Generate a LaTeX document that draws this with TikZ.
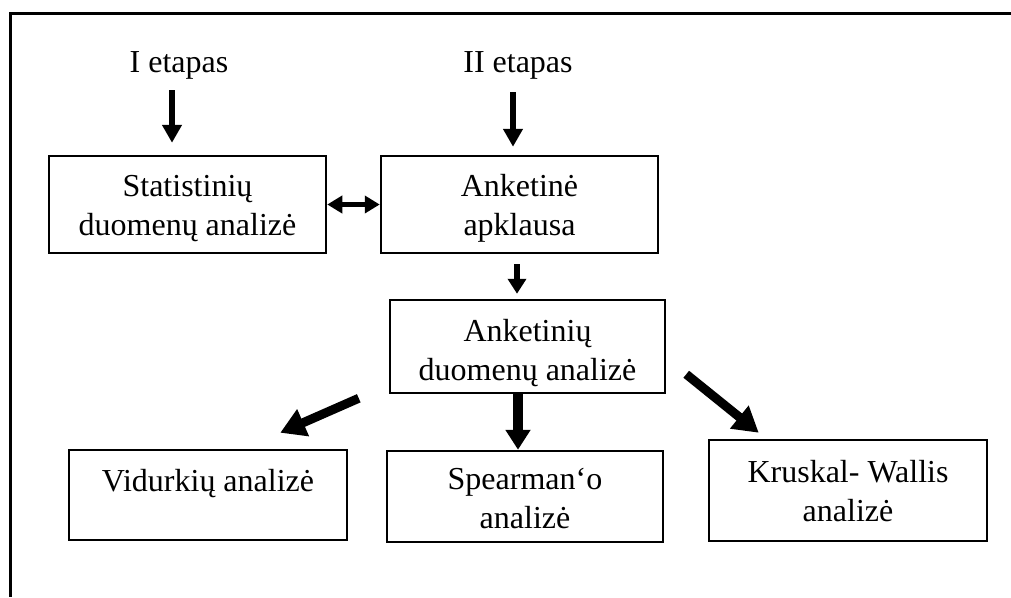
\documentclass[tikz,border=0pt]{standalone}
\usepackage{fontspec}
\setmainfont{Liberation Serif}
\usetikzlibrary{arrows.meta}
\begin{document}
\begin{tikzpicture}[x=1pt,y=-1pt,
  box/.style={draw, line width=2.5pt, align=center, inner sep=0pt,
    font=\fontsize{32}{39}\selectfont, text depth=8pt},
  lbl/.style={anchor=base, font=\fontsize{32}{39}\selectfont},
  thinarr/.style={line width=6pt, -{Triangle[length=18pt,width=19pt]}},
  midarr/.style={line width=6pt, -{Triangle[length=15pt,width=18pt]}},
  boldarr/.style={line width=10pt, -{Triangle[length=20pt,width=24pt]}},
  diagarr/.style={line width=9pt, -{Triangle[length=25pt,width=28pt]}},
  dblarr/.style={line width=5pt, {Triangle[length=15pt,width=17pt]}-{Triangle[length=15pt,width=17pt]}}]
\useasboundingbox (0,0) rectangle (1011,597);

% frame edges
\draw[line width=3pt] (1011,13) -- (10,13) -- (10,597);

% stage labels
\node[lbl] (t1) at (179,72) {I etapas};
\node[lbl] (t2) at (518,72) {II etapas};

% boxes (text height/depth place the last baseline inside each box)
\node[box, minimum width=277pt, minimum height=97pt, text height=69pt] (b1) at (187.5,204.5)
  {Statistinių\\duomenų analizė};
\node[box, minimum width=277pt, minimum height=97pt, text height=69pt] (b2) at (519.5,204.5)
  {Anketinė\\apklausa};
\node[box, minimum width=275pt, minimum height=93pt, text height=75pt] (b3) at (527.5,346.5)
  {Anketinių\\duomenų analizė};
\node[box, minimum width=278pt, minimum height=90pt, text height=1.5pt] (b4) at (208,495)
  {Vidurkių analizė};
\node[box, minimum width=276pt, minimum height=91pt, text height=71.5pt] (b5) at (525,496.5)
  {Spearman‘o\\analizė};
\node[box, minimum width=278pt, minimum height=101pt, text height=69pt] (b6) at (848,490.5)
  {Kruskal- Wallis\\analizė};

% arrow start points
\coordinate (a1) at (172,90);
\coordinate (a2) at (513,92);
\coordinate (a3) at ([xshift=-2.5pt]b2.south);
\coordinate (a4) at ([xshift=-9.5pt]b3.south);

% connectors
\draw[thinarr, shorten >=12pt] (a1) -- (a1 |- b1.north);
\draw[thinarr, shorten >=8pt] (a2) -- (a2 |- b2.north);
\draw[dblarr] (b1.east) -- (b2.west);
\draw[midarr, shorten <=10pt, shorten >=5pt] (a3) -- (a3 |- b3.north);
\draw[boldarr] (a4) -- (a4 |- b5.north);
\draw[diagarr] ([shift={(-30,4)}]b3.south west) -- ([shift={(-68,-16)}]b4.north east);
\draw[diagarr] ([shift={(20,-20)}]b3.south east) -- ([shift={(51,-6)}]b6.north west);
\end{tikzpicture}
\end{document}
